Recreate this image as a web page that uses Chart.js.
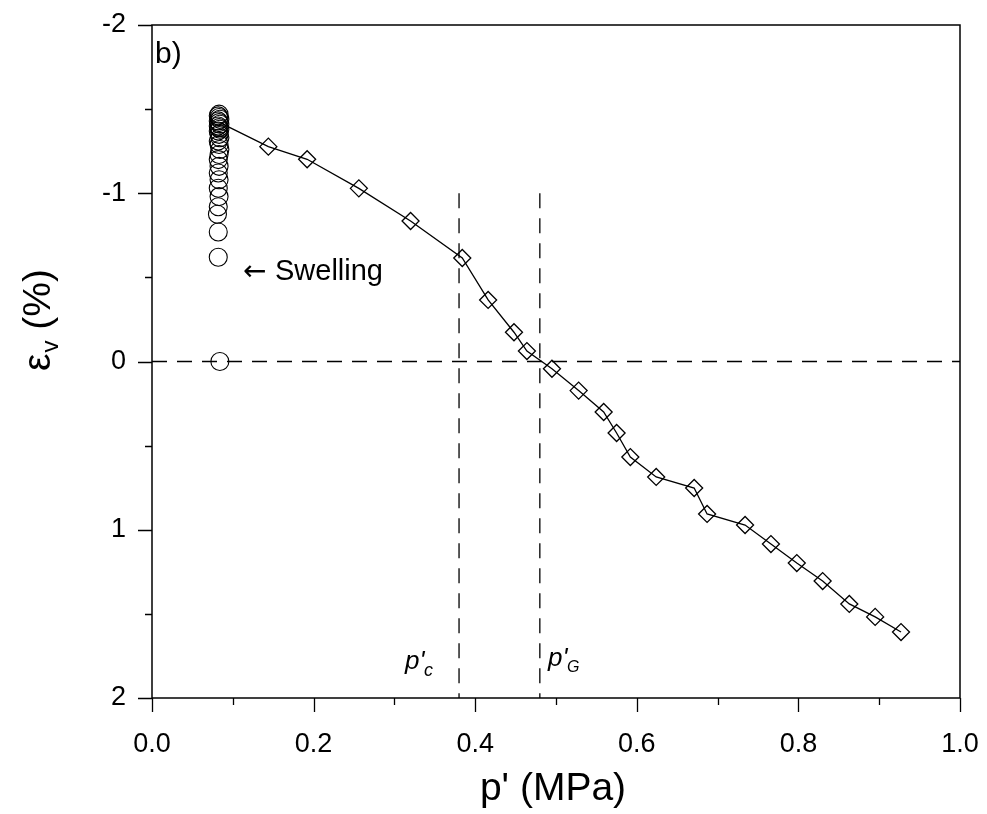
<!DOCTYPE html>
<html>
<head>
<meta charset="utf-8">
<script src="https://cdn.jsdelivr.net/npm/chart.js@4/dist/chart.umd.min.js"></script>
<style>
html,body{margin:0;padding:0;background:#fff;}
#wrap{width:987px;height:814px;}
</style>
</head>
<body>
<div id="wrap"><canvas id="c" width="987" height="814"></canvas></div>
<script>
// ---- data ----
const swellP = [0.084,0.082,0.082,0.081,0.082,0.083,0.082,0.083,0.082,0.083,0.082,0.083,0.084,0.083,0.082,0.084,0.083,0.082,0.084,0.083,0.082,0.084,0.083,0.082,0.084,0.083,0.082,0.083];
const swellEv = [0,-0.62,-0.77,-0.875,-0.92,-0.98,-1.03,-1.08,-1.12,-1.16,-1.2,-1.23,-1.26,-1.29,-1.31,-1.33,-1.35,-1.37,-1.38,-1.39,-1.40,-1.41,-1.42,-1.43,-1.44,-1.45,-1.46,-1.47];
const shearP = [0.084,0.144,0.192,0.256,0.320,0.384,0.416,0.448,0.464,0.495,0.528,0.559,0.575,0.592,0.624,0.671,0.687,0.734,0.766,0.798,0.830,0.863,0.895,0.927];
const shearEv = [-1.42,-1.277,-1.202,-1.029,-0.835,-0.615,-0.366,-0.174,-0.062,0.043,0.173,0.300,0.425,0.568,0.686,0.752,0.906,0.972,1.085,1.198,1.305,1.441,1.518,1.608];
const zeroLineP = [0, 1];
const zeroLineEv = [0, 0];
const pcP = [0.38, 0.38];
const pgP = [0.48, 0.48];
const vLineEv = [-1, 2];
const xMajor = [0,0.2,0.4,0.6,0.8,1.0];
const xMinor = [0.1,0.3,0.5,0.7,0.9];
const yMajor = [-2,-1,0,1,2];
const yMinor = [-1.5,-0.5,0.5,1.5];
const xTitle = "p' (MPa)";
const yTitleMain = "\u03b5";
const yTitleSub = "v";
const yTitleRest = " (%)";
const panelLabel = "b)";
const swellArrow = "\u2190";
const swellLabel = "Swelling";

const FONT = "'Liberation Sans', Arial, Helvetica, sans-serif";
const pts = (xs, ys) => xs.map((v,i)=>({x:v, y:ys[i]}));

const deco = {
  id:'deco',
  afterDraw(chart){
    const {ctx, chartArea:a, scales:{x, y}} = chart;
    ctx.save();
    ctx.strokeStyle = '#000';
    ctx.lineWidth = 1.5;
    ctx.strokeRect(a.left, a.top, a.right-a.left, a.bottom-a.top);
    ctx.lineWidth = 1.3;
    ctx.beginPath();
    xMajor.forEach(v=>{const px=Math.round(x.getPixelForValue(v))+0.5; ctx.moveTo(px,a.bottom); ctx.lineTo(px,a.bottom+14);});
    xMinor.forEach(v=>{const px=Math.round(x.getPixelForValue(v))+0.5; ctx.moveTo(px,a.bottom); ctx.lineTo(px,a.bottom+7);});
    yMajor.forEach(v=>{const py=Math.round(y.getPixelForValue(v))+0.5; ctx.moveTo(a.left,py); ctx.lineTo(a.left-14,py);});
    yMinor.forEach(v=>{const py=Math.round(y.getPixelForValue(v))+0.5; ctx.moveTo(a.left,py); ctx.lineTo(a.left-7,py);});
    ctx.stroke();

    ctx.fillStyle = '#000';
    ctx.textBaseline = 'alphabetic';
    // x title
    ctx.font = `39px ${FONT}`;
    ctx.textAlign = 'center';
    ctx.fillText(xTitle, (a.left+a.right)/2 - 3, 800);
    // y title
    ctx.save();
    ctx.textAlign = 'left';
    ctx.font = `39px ${FONT}`;
    const w1 = ctx.measureText(yTitleMain).width;
    const w3 = ctx.measureText(yTitleRest).width;
    ctx.font = `24px ${FONT}`;
    const w2 = ctx.measureText(yTitleSub).width + 1;
    const total = w1 + w2 + w3;
    ctx.translate(50, 320);
    ctx.rotate(-Math.PI/2);
    ctx.font = `39px ${FONT}`;
    ctx.fillText(yTitleMain, -total/2, 0);
    ctx.font = `24px ${FONT}`;
    ctx.fillText(yTitleSub, -total/2 + w1 + 1, 8);
    ctx.font = `39px ${FONT}`;
    ctx.fillText(yTitleRest, -total/2 + w1 + w2, 0);
    ctx.restore();
    // panel label
    ctx.textAlign = 'left';
    ctx.font = `30px ${FONT}`;
    ctx.fillText(panelLabel, 155, 63);
    // swelling
    ctx.font = `28px 'DejaVu Sans', ${FONT}`;
    ctx.fillText(swellArrow, 243, 280);
    ctx.font = `29px ${FONT}`;
    ctx.fillText(swellLabel, 275, 280);
    // p'c
    ctx.font = `italic 26px ${FONT}`;
    ctx.fillText("p'", 405, 669);
    ctx.font = `italic 18px ${FONT}`;
    ctx.fillText("c", 424, 676);
    // p'G
    ctx.font = `italic 26px ${FONT}`;
    ctx.fillText("p'", 548, 666);
    ctx.font = `italic 16px ${FONT}`;
    ctx.fillText("G", 567, 672);
    ctx.restore();
  }
};

const dashStyle = {borderColor:'#000', borderWidth:1.3, borderDash:[15,10], pointRadius:0, showLine:true, fill:false, tension:0};

new Chart(document.getElementById('c'), {
  type:'scatter',
  data:{
    datasets:[
      Object.assign({data:pts(zeroLineP, zeroLineEv)}, dashStyle),
      Object.assign({data:pts(pcP, vLineEv)}, dashStyle),
      Object.assign({data:pts(pgP, vLineEv)}, dashStyle),
      {data:pts(swellP, swellEv), pointStyle:'circle', pointRadius:9, borderColor:'#000', backgroundColor:'rgba(0,0,0,0)', borderWidth:1.1, showLine:false},
      {data:pts(shearP, shearEv), showLine:true, tension:0, borderColor:'#000', borderWidth:1.3, pointStyle:'rectRot',
       pointRadius: shearP.map((v,i)=> i===0 ? 0 : 8.5), pointBorderColor:'#000', pointBackgroundColor:'rgba(0,0,0,0)', pointBorderWidth:1.3, fill:false}
    ]
  },
  options:{
    responsive:false,
    animation:false,
    layout:{padding:{top:25, right:27, left:0, bottom:0}},
    plugins:{legend:{display:false}, tooltip:{enabled:false}},
    scales:{
      x:{type:'linear', min:0, max:1,
        grid:{display:false, drawTicks:false}, border:{display:false},
        ticks:{stepSize:0.2, font:{size:27, family:FONT}, color:'#000', padding:30, maxRotation:0,
          callback:v=>Number(v).toFixed(1)},
        afterFit(s){ s.height = 116; s.paddingLeft = 0; s.paddingRight = 0; }
      },
      y:{type:'linear', min:-2, max:2, reverse:true,
        grid:{display:false, drawTicks:false}, border:{display:false},
        ticks:{stepSize:1, font:{size:27, family:FONT}, color:'#000', padding:26,
          callback:v=>String(v)},
        afterFit(s){ s.width = 152; s.paddingTop = 0; s.paddingBottom = 0; }
      }
    }
  },
  plugins:[deco]
});
</script>
</body>
</html>
